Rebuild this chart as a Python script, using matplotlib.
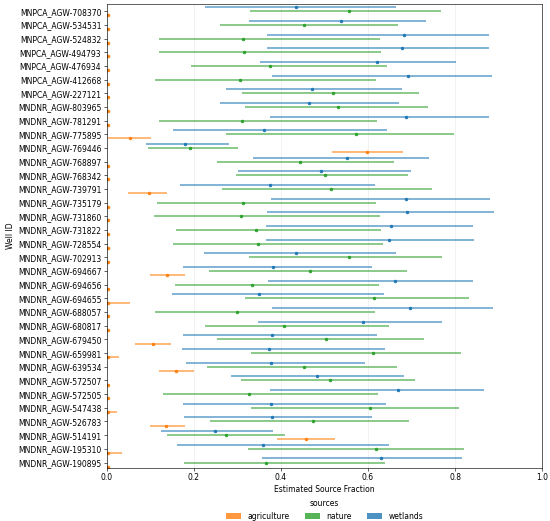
import numpy as np
import matplotlib
matplotlib.use("Agg")
import matplotlib.pyplot as plt
from matplotlib.patches import Patch

# wells, top to bottom as drawn
wells = [
    "MNPCA_AGW-708370", "MNPCA_AGW-534531", "MNPCA_AGW-524832", "MNPCA_AGW-494793",
    "MNPCA_AGW-476934", "MNPCA_AGW-412668", "MNPCA_AGW-227121",
    "MNDNR_AGW-803965", "MNDNR_AGW-781291", "MNDNR_AGW-775895", "MNDNR_AGW-769446",
    "MNDNR_AGW-768897", "MNDNR_AGW-768342", "MNDNR_AGW-739791", "MNDNR_AGW-735179",
    "MNDNR_AGW-731860", "MNDNR_AGW-731822", "MNDNR_AGW-728554", "MNDNR_AGW-702913",
    "MNDNR_AGW-694667", "MNDNR_AGW-694656", "MNDNR_AGW-694655", "MNDNR_AGW-688057",
    "MNDNR_AGW-680817", "MNDNR_AGW-679450", "MNDNR_AGW-659981", "MNDNR_AGW-639534",
    "MNDNR_AGW-572507", "MNDNR_AGW-572505", "MNDNR_AGW-547438", "MNDNR_AGW-526783",
    "MNDNR_AGW-514191", "MNDNR_AGW-195310", "MNDNR_AGW-190895",
]

# wetlands: estimate, lower, upper
wet_mean = [0.435, 0.539, 0.683, 0.679, 0.621, 0.691, 0.472, 0.464, 0.687, 0.360,
            0.180, 0.551, 0.493, 0.376, 0.686, 0.689, 0.653, 0.647, 0.435, 0.381,
            0.662, 0.350, 0.696, 0.589, 0.379, 0.373, 0.377, 0.482, 0.668, 0.377,
            0.379, 0.249, 0.358, 0.630]
wet_lo = [0.226, 0.327, 0.367, 0.367, 0.352, 0.379, 0.275, 0.259, 0.376, 0.153,
          0.090, 0.337, 0.302, 0.168, 0.378, 0.369, 0.365, 0.365, 0.223, 0.176,
          0.370, 0.151, 0.380, 0.347, 0.176, 0.172, 0.181, 0.285, 0.374, 0.176,
          0.178, 0.124, 0.162, 0.357]
wet_hi = [0.663, 0.732, 0.878, 0.878, 0.802, 0.885, 0.679, 0.672, 0.878, 0.643,
          0.280, 0.741, 0.698, 0.615, 0.881, 0.888, 0.840, 0.844, 0.663, 0.608,
          0.842, 0.636, 0.887, 0.769, 0.621, 0.639, 0.594, 0.683, 0.867, 0.641,
          0.608, 0.382, 0.647, 0.816]

# nature
nat_mean = [0.556, 0.454, 0.314, 0.316, 0.375, 0.305, 0.520, 0.530, 0.310, 0.572,
            0.191, 0.444, 0.500, 0.516, 0.312, 0.308, 0.343, 0.348, 0.556, 0.466,
            0.333, 0.614, 0.300, 0.407, 0.503, 0.611, 0.452, 0.512, 0.327, 0.604,
            0.474, 0.274, 0.619, 0.365]
nat_lo = [0.328, 0.261, 0.119, 0.119, 0.194, 0.112, 0.311, 0.318, 0.119, 0.275,
          0.095, 0.253, 0.296, 0.265, 0.115, 0.109, 0.158, 0.153, 0.327, 0.234,
          0.156, 0.318, 0.111, 0.225, 0.254, 0.332, 0.230, 0.308, 0.129, 0.331,
          0.236, 0.139, 0.324, 0.178]
nat_hi = [0.767, 0.669, 0.628, 0.630, 0.643, 0.618, 0.718, 0.737, 0.621, 0.797,
          0.301, 0.659, 0.692, 0.746, 0.619, 0.628, 0.630, 0.634, 0.769, 0.689,
          0.625, 0.832, 0.617, 0.647, 0.728, 0.813, 0.666, 0.708, 0.623, 0.808,
          0.695, 0.409, 0.821, 0.640]

# agriculture
agr_mean = [0.003, 0.002, 0.002, 0.002, 0.002, 0.002, 0.002, 0.003, 0.002, 0.054,
            0.597, 0.002, 0.002, 0.097, 0.002, 0.002, 0.002, 0.002, 0.004, 0.138,
            0.002, 0.004, 0.002, 0.002, 0.106, 0.002, 0.159, 0.002, 0.002, 0.002,
            0.137, 0.458, 0.002, 0.002]
agr_lo = [0.0, 0.0, 0.0, 0.0, 0.0, 0.0, 0.0, 0.0, 0.0, 0.002,
          0.517, 0.0, 0.0, 0.050, 0.0, 0.0, 0.0, 0.0, 0.001, 0.099,
          0.0, 0.0, 0.0, 0.0, 0.064, 0.0, 0.121, 0.0, 0.0, 0.0,
          0.099, 0.392, 0.0, 0.0]
agr_hi = [0.007, 0.004, 0.004, 0.004, 0.004, 0.004, 0.004, 0.006, 0.004, 0.101,
          0.681, 0.004, 0.004, 0.138, 0.004, 0.004, 0.004, 0.004, 0.008, 0.179,
          0.004, 0.054, 0.004, 0.004, 0.148, 0.028, 0.200, 0.004, 0.004, 0.023,
          0.179, 0.524, 0.036, 0.004]

sources = ["agriculture", "nature", "wetlands"]
colors = {"agriculture": "tab:orange", "nature": "tab:green", "wetlands": "tab:blue"}
offsets = {"agriculture": 0.3, "nature": 0.0, "wetlands": -0.3}
data = {
    "agriculture": (agr_mean, agr_lo, agr_hi),
    "nature": (nat_mean, nat_lo, nat_hi),
    "wetlands": (wet_mean, wet_lo, wet_hi),
}

fig, ax = plt.subplots(figsize=(10, 9.473), dpi=55)
fig.subplots_adjust(left=0.194, right=0.986, top=0.992, bottom=0.102)

y = np.arange(len(wells))
for src in sources:
    m, lo, hi = (np.array(a) for a in data[src])
    yy = y + offsets[src]
    ax.hlines(yy, lo, hi, color=colors[src], lw=2.6, alpha=0.55)
    ax.plot(m, yy, "o", color=colors[src], ms=3.5, ls="none")

ax.set_yticks(y)
ax.set_yticklabels(wells)
ax.set_ylim(len(wells) - 1 + 0.39, -0.52)
ax.set_xlim(0, 1)
ax.grid(axis="x", alpha=0.25)
ax.set_axisbelow(True)
ax.set_xlabel("Estimated Source Fraction")
ax.set_ylabel("Well ID")

handles = [Patch(facecolor=colors[s], alpha=0.8, label=s) for s in sources]
ax.legend(handles=handles, title="sources", loc="upper center",
          bbox_to_anchor=(0.5, -0.052), ncol=3, frameon=False)

fig.savefig("out.png", dpi=55)
